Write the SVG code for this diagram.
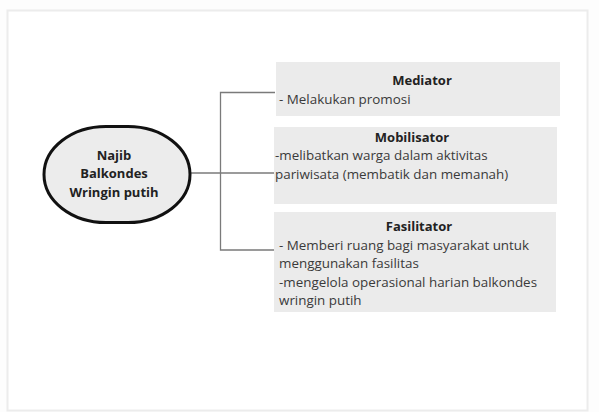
<svg xmlns="http://www.w3.org/2000/svg" width="599" height="412" viewBox="0 0 599 412">
<style>
.box{fill:#ebebeb;stroke:none}
.conn{fill:none;stroke:#7a7a7a;stroke-width:1.3}
.t{font-family:"Open Sans","Noto Sans",sans-serif;font-size:13.4px;fill:#3a3a3a}
.h{font-family:"Open Sans","Noto Sans",sans-serif;font-size:13px;font-weight:bold;fill:#222;text-anchor:middle}
</style>
<rect x="0" y="0" width="599" height="412" fill="#fdfdfd"/>
<rect x="7.5" y="10.5" width="580" height="400" fill="#ffffff" stroke="#ececec" stroke-width="2"/>
<g id="connectors">
<path class="conn" d="M190 173 H274"/>
<path class="conn" d="M275 92.5 H220.5 V250 H275"/>
</g>
<g id="root">
<rect x="44" y="126.5" width="146" height="96" rx="62" ry="48" fill="#ececec" stroke="#111" stroke-width="3"/>
<text class="h" x="114" y="159.5">Najib</text>
<text class="h" x="114" y="178">Balkondes</text>
<text class="h" x="114" y="196.5">Wringin putih</text>
</g>
<g id="mediator">
<rect class="box" x="276" y="62" width="284" height="54"/>
<text class="h" x="422" y="84.5">Mediator</text>
<text class="t" x="279" y="103.5">- Melakukan promosi</text>
</g>
<g id="mobilisator">
<rect class="box" x="274" y="127" width="283" height="77"/>
<text class="h" x="412" y="141.5">Mobilisator</text>
<text class="t" x="275" y="159.5">-melibatkan warga dalam aktivitas</text>
<text class="t" x="275" y="178.5">pariwisata (membatik dan memanah)</text>
</g>
<g id="fasilitator">
<rect class="box" x="274" y="212" width="282" height="100"/>
<text class="h" x="419" y="230.5">Fasilitator</text>
<text class="t" x="279" y="249.5">- Memberi ruang bagi masyarakat untuk</text>
<text class="t" x="279" y="268">menggunakan fasilitas</text>
<text class="t" x="279" y="286.5">-mengelola operasional harian balkondes</text>
<text class="t" x="279" y="304.5">wringin putih</text>
</g>
</svg>
